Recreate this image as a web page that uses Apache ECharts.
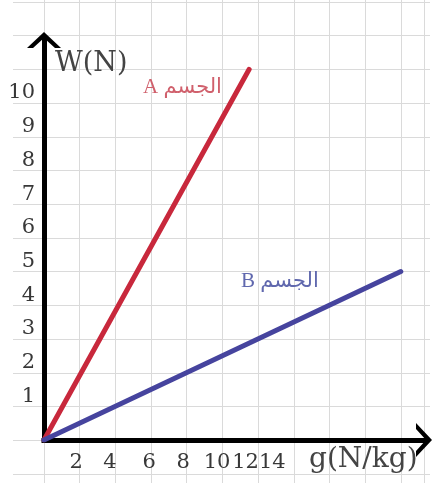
<!DOCTYPE html>
<html>
<head>
<meta charset="utf-8">
<script src="https://cdn.jsdelivr.net/npm/echarts@6/dist/echarts.min.js"></script>
<style>
  html, body { margin: 0; padding: 0; background: #fff; }
  #chart { width: 433px; height: 483px; }
</style>
</head>
<body>
<div id="chart"></div>
<script>
// Weight W (N) against gravitational field strength g (N/kg) for two bodies
const bodyA = [[0, 0], [11.5, 11]];
const bodyB = [[0, 0], [20, 5]];

// Axis tick labels
const yTickValues = [1, 2, 3, 4, 5, 6, 7, 8, 9, 10];
const xTickLabels = ['2', '4', '6', '8', '10', '12', '14'];
// where each g label sits along the axis (the last ones are packed together)
const xTickAt = [1.8, 3.7, 5.9, 7.8, 9.7, 11.3, 12.8];

const axisName = { x: 'g(N/kg)', y: 'W(N)' };
const bodyNames = { A: 'A الجسم', B: 'B الجسم' };

const SERIF = '"DejaVu Serif", "Liberation Serif", serif';
const LABEL_FONT = '"Liberation Serif", "DejaVu Sans", serif';
const GRID_COLOR = '#dadada';
const ARROW = 'path://M0,16 L17,0 L34,16 L28,16 L17,6 L6,16 Z';

const chart = echarts.init(document.getElementById('chart'), null, { renderer: 'canvas' });

chart.setOption({
  backgroundColor: '#ffffff',
  animation: false,
  grid: [
    // main plot
    { left: 44, right: 9, top: 40, bottom: 43 },
    // vertical ruling of the squared paper
    { left: 44, right: 9, top: 0, bottom: 0 },
    // horizontal ruling of the squared paper
    { left: 13, right: 3, top: 2, bottom: 9 }
  ],
  xAxis: [
    {
      gridIndex: 0, type: 'value', min: 0, max: 21.3,
      axisLine: {
        show: true, onZero: false,
        lineStyle: { color: '#000', width: 5, cap: 'square' },
        symbol: ['none', ARROW], symbolSize: [34, 16]
      },
      axisTick: { show: false },
      splitLine: { show: false },
      axisLabel: {
        customValues: xTickAt,
        formatter: function (v) {
          const i = xTickAt.indexOf(v);
          return i >= 0 ? xTickLabels[i] : '';
        },
        margin: 12,
        fontFamily: SERIF, fontSize: 21, color: '#383838'
      }
    },
    {
      gridIndex: 1, type: 'value', min: 0, max: 21.3, interval: 2,
      axisLine: { show: false }, axisTick: { show: false }, axisLabel: { show: false },
      splitLine: { show: true, lineStyle: { color: GRID_COLOR, width: 1 } }
    },
    {
      gridIndex: 2, type: 'value', min: 0, max: 1, show: false
    }
  ],
  yAxis: [
    {
      gridIndex: 0, type: 'value', min: 0, max: 11.87, interval: 1,
      axisLine: {
        show: true, onZero: false,
        lineStyle: { color: '#000', width: 5, cap: 'square' },
        symbol: ['none', ARROW], symbolSize: [34, 16]
      },
      axisTick: { show: false },
      splitLine: { show: false },
      axisLabel: {
        formatter: function (v) {
          return yTickValues.indexOf(v) >= 0 ? String(v) : '';
        },
        margin: 9,
        verticalAlign: 'bottom',
        lineHeight: 20,
        fontFamily: SERIF, fontSize: 21, color: '#383838'
      }
    },
    {
      gridIndex: 1, type: 'value', min: 0, max: 1, show: false
    },
    {
      gridIndex: 2, type: 'value', min: -1, max: 13, interval: 1,
      axisLine: { show: false }, axisTick: { show: false }, axisLabel: { show: false },
      splitLine: { show: true, lineStyle: { color: GRID_COLOR, width: 1 } }
    }
  ],
  series: [
    {
      name: 'A', type: 'line', xAxisIndex: 0, yAxisIndex: 0,
      data: bodyA, showSymbol: false, symbol: 'none', z: 5,
      lineStyle: { color: '#c8283c', width: 5, cap: 'round' }
    },
    {
      name: 'B', type: 'line', xAxisIndex: 0, yAxisIndex: 0,
      data: bodyB, showSymbol: false, symbol: 'none', z: 5,
      lineStyle: { color: '#46449e', width: 5, cap: 'round' }
    }
  ],
  graphic: [
    {
      type: 'text', left: 55, top: 50, z: 10,
      style: { text: axisName.y, font: '27px ' + SERIF, fill: '#444' }
    },
    {
      type: 'text', left: 309, top: 446, z: 10,
      style: { text: axisName.x, font: '28px ' + SERIF, fill: '#444' }
    },
    {
      type: 'text', left: 143, top: 77, z: 10,
      style: { text: bodyNames.A, font: '21px ' + LABEL_FONT, fill: '#d0606c' }
    },
    {
      type: 'text', left: 241, top: 271, z: 10,
      style: { text: bodyNames.B, font: '21px ' + LABEL_FONT, fill: '#6068ae' }
    }
  ]
});
</script>
</body>
</html>
